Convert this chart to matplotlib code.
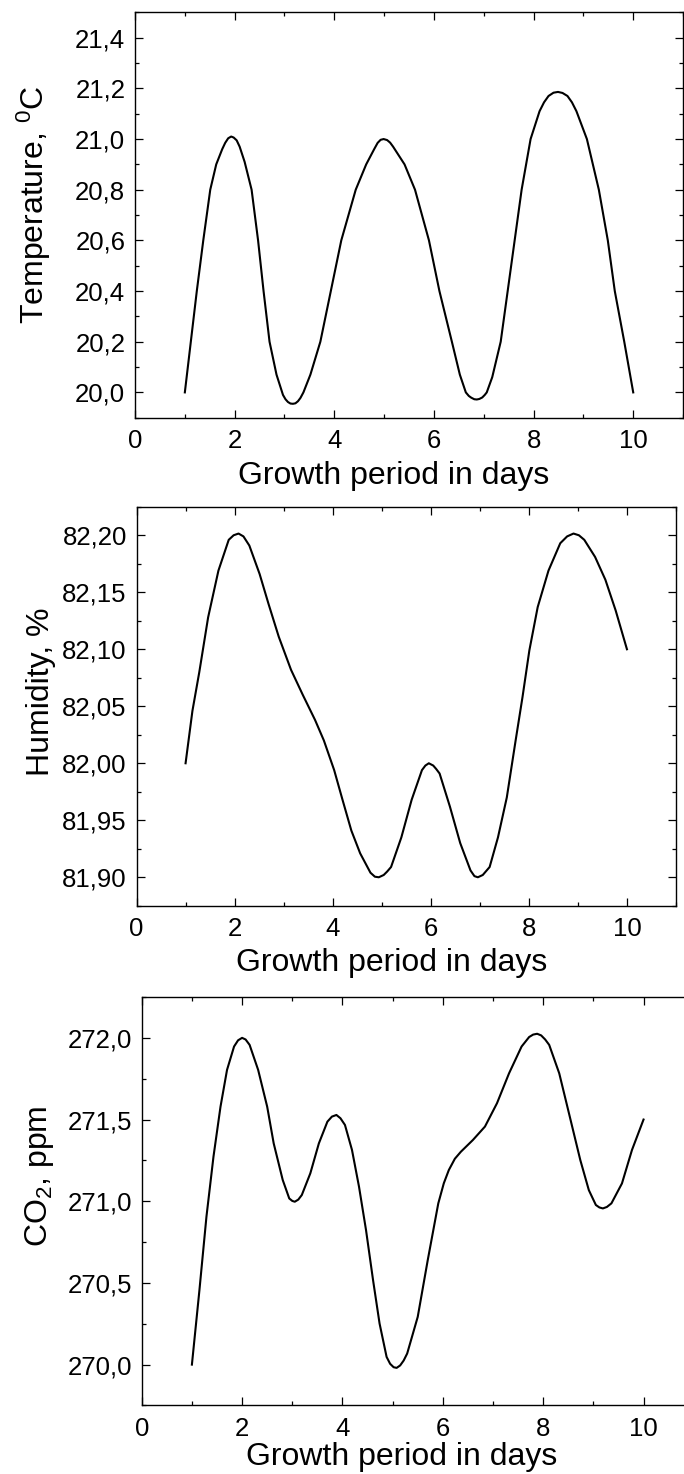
"""
Microclimate charts: temperature, humidity and CO2 over the growth period
"""
import matplotlib
matplotlib.use('Agg')  # Non-interactive backend
import matplotlib.pyplot as plt
from matplotlib.ticker import MultipleLocator, FuncFormatter

# Values (day, value)
temp_days = [1.00, 1.12, 1.24, 1.37, 1.51, 1.63, 1.75, 1.81, 1.87, 1.93, 1.98, 2.04,
             2.10, 2.20, 2.34, 2.47, 2.58, 2.70, 2.84, 2.97, 3.02, 3.07, 3.12, 3.17,
             3.22, 3.27, 3.32, 3.38, 3.52, 3.72, 3.93, 4.14, 4.43, 4.64, 4.80, 4.87,
             4.93, 4.99, 5.06, 5.12, 5.18, 5.41, 5.62, 5.90, 6.11, 6.36, 6.52, 6.64,
             6.70, 6.75, 6.81, 6.86, 6.91, 6.97, 7.02, 7.06, 7.17, 7.34, 7.48, 7.62,
             7.76, 7.94, 8.12, 8.21, 8.30, 8.40, 8.49, 8.58, 8.68, 8.77, 8.86, 9.07,
             9.31, 9.49, 9.63, 9.82, 10.00]
temperature = [20.00, 20.20, 20.40, 20.60, 20.80, 20.90, 20.96, 20.985, 21.003, 21.01, 21.006, 20.995,
               20.97, 20.91, 20.80, 20.60, 20.40, 20.20, 20.07, 19.99, 19.973, 19.962, 19.956, 19.955,
               19.957, 19.965, 19.978, 20.00, 20.07, 20.20, 20.40, 20.60, 20.80, 20.90, 20.96, 20.985,
               20.997, 21.00, 20.996, 20.986, 20.97, 20.90, 20.80, 20.60, 20.40, 20.20, 20.07, 20.00,
               19.986, 19.979, 19.973, 19.972, 19.974, 19.98, 19.99, 20.00, 20.06, 20.20, 20.40, 20.60,
               20.80, 21.00, 21.11, 21.145, 21.17, 21.183, 21.186, 21.182, 21.17, 21.145, 21.11, 21.00,
               20.80, 20.60, 20.40, 20.20, 20.00]

hum_days = [1.00, 1.14, 1.28, 1.46, 1.67, 1.88, 1.98, 2.08, 2.18, 2.30, 2.51, 2.69,
            2.90, 3.15, 3.39, 3.64, 3.82, 4.03, 4.20, 4.38, 4.56, 4.77, 4.86, 4.94,
            5.04, 5.11, 5.19, 5.40, 5.61, 5.82, 5.89, 5.96, 6.05, 6.11, 6.18, 6.39,
            6.60, 6.81, 6.89, 6.96, 7.06, 7.20, 7.37, 7.55, 7.73, 7.87, 8.01, 8.18,
            8.40, 8.64, 8.78, 8.91, 9.02, 9.13, 9.35, 9.56, 9.77, 10.00]
humidity = [82.000, 82.046, 82.080, 82.128, 82.169, 82.196, 82.200, 82.2015, 82.199, 82.191, 82.166, 82.140,
            82.111, 82.082, 82.060, 82.038, 82.020, 81.994, 81.968, 81.941, 81.921, 81.904, 81.9005, 81.900,
            81.902, 81.905, 81.909, 81.935, 81.968, 81.994, 81.998, 82.000, 81.998, 81.995, 81.991, 81.962,
            81.930, 81.906, 81.901, 81.900, 81.902, 81.909, 81.935, 81.970, 82.020, 82.058, 82.099, 82.137,
            82.169, 82.193, 82.199, 82.2015, 82.200, 82.196, 82.181, 82.161, 82.134, 82.100]

co2_days = [1.00, 1.15, 1.29, 1.43, 1.57, 1.70, 1.84, 1.92, 2.00, 2.07, 2.15, 2.32,
            2.50, 2.63, 2.81, 2.94, 3.00, 3.05, 3.12, 3.19, 3.36, 3.53, 3.70, 3.79,
            3.88, 3.96, 4.05, 4.19, 4.33, 4.47, 4.61, 4.74, 4.88, 4.95, 5.02, 5.08,
            5.15, 5.22, 5.29, 5.50, 5.70, 5.91, 6.02, 6.12, 6.24, 6.36, 6.60, 6.84,
            7.08, 7.32, 7.57, 7.72, 7.80, 7.88, 7.96, 8.04, 8.12, 8.32, 8.53, 8.74,
            8.91, 9.05, 9.12, 9.19, 9.27, 9.36, 9.57, 9.77, 10.00]
co2 = [270.000, 270.456, 270.906, 271.273, 271.579, 271.804, 271.947, 271.985, 272.000, 271.990, 271.957, 271.804,
       271.579, 271.354, 271.130, 271.017, 271.002, 270.997, 271.010, 271.038, 271.171, 271.354, 271.487, 271.518,
       271.528, 271.508, 271.467, 271.314, 271.089, 270.823, 270.517, 270.251, 270.047, 270.005, 269.984, 269.980,
       269.995, 270.025, 270.068, 270.292, 270.640, 270.987, 271.110, 271.191, 271.260, 271.303, 271.375, 271.457,
       271.600, 271.783, 271.947, 272.005, 272.020, 272.025, 272.015, 271.990, 271.957, 271.783, 271.518, 271.252,
       271.068, 270.977, 270.962, 270.956, 270.965, 270.987, 271.109, 271.314, 271.500]

x_label = 'Growth period in days'

plt.rcParams['font.family'] = ['Liberation Sans', 'DejaVu Sans']
plt.rcParams['mathtext.default'] = 'regular'


def comma_formatter(decimals):
    """Tick labels with a decimal comma"""
    return FuncFormatter(lambda v, pos: f'{v:.{decimals}f}'.replace('.', ','))


def setup_panel(ax, x, y, ylim, ymajor, decimals, ylabel, ylabel_pos, xlabel_pos):
    ax.plot(x, y, color='black', lw=1.5)
    ax.set_xlim(0, 11)
    ax.set_ylim(*ylim)

    ax.xaxis.set_major_locator(MultipleLocator(2))
    ax.xaxis.set_minor_locator(MultipleLocator(1))
    ax.yaxis.set_major_locator(MultipleLocator(ymajor))
    ax.yaxis.set_minor_locator(MultipleLocator(ymajor / 2))
    ax.xaxis.set_major_formatter(FuncFormatter(lambda v, pos: f'{v:.0f}'))
    ax.yaxis.set_major_formatter(comma_formatter(decimals))

    ax.tick_params(which='both', direction='in', top=True, right=True, width=0.9)
    ax.tick_params(which='major', length=5.5, labelsize=18.5)
    ax.tick_params(which='minor', length=3)
    ax.tick_params(axis='x', pad=8)
    ax.tick_params(axis='y', pad=7)
    for spine in ax.spines.values():
        spine.set_linewidth(1.0)

    ax.set_xlabel(x_label, fontsize=23)
    ax.set_ylabel(ylabel, fontsize=23)
    ax.xaxis.set_label_coords(*xlabel_pos)
    ax.yaxis.set_label_coords(*ylabel_pos)


fig = plt.figure(figsize=(6.84, 14.74), dpi=100)

ax1 = fig.add_axes([0.1974, 0.7166, 0.8012, 0.2750])
setup_panel(ax1, temp_days, temperature, (19.9, 21.5), 0.2, 1,
            r'Temperature, $^{0}$C', (-0.150, 0.525), (0.471, -0.1068))

ax2 = fig.add_axes([0.1996, 0.3855, 0.7887, 0.2707])
setup_panel(ax2, hum_days, humidity, (81.875, 82.225), 0.05, 2,
            'Humidity, %', (-0.149, 0.536), (0.4736, -0.106))

ax3 = fig.add_axes([0.2072, 0.0465, 0.8070, 0.2771])
setup_panel(ax3, co2_days, co2, (269.75, 272.25), 0.5, 1,
            r'CO$_2$, ppm', (-0.155, 0.562), (0.4716, -0.0894))

fig.savefig('out.png', dpi=100)
plt.close(fig)
